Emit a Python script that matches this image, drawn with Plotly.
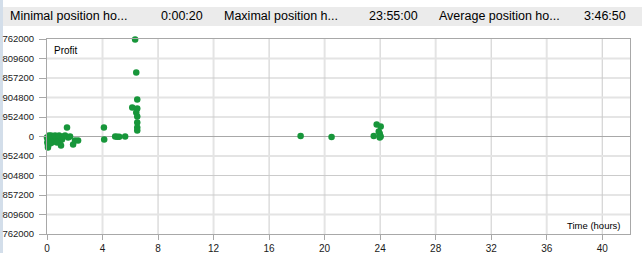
import plotly.graph_objects as go

# ---- data (hours held, profit) ----
hours = [0.00, 0.07, 0.14, 0.22, 0.07, 0.07, 0.29, 0.36, 0.43, 0.51, 0.58, 0.65, 0.72, 0.79,
         0.87, 0.94, 1.01, 1.08, 0.14, 0.29, 0.58, 0.87, 1.16, 1.01, 1.30, 1.44, 1.52, 1.66,
         1.88, 2.02, 2.24, 0.02, 0.36, 0.72,
         4.10, 4.12, 4.91, 5.05, 5.20, 5.63,
         6.35, 6.43, 6.50, 6.14, 6.50, 6.43, 6.50, 6.50, 6.50, 6.50,
         18.27, 20.50, 23.54, 23.75, 24.04, 23.90, 23.97, 24.04, 23.97]
profit = [-48000, -146000, -244000, -342000, -440000, -537000, -98000, -195000, 0, -98000,
          -195000, -49000, -146000, 0, -98000, -195000, -49000, -146000, 49000, 49000,
          49000, 49000, 0, -440000, 49000, 440000, -49000, 0, -390000, -195000, -195000,
          -293000, -293000, -293000,
          440000, -146000, 0, -10000, -15000, 5000,
          4737000, 3125000, 1807000, 1416000, 1367000, 1172000, 977000, 684000, 440000, 293000,
          20000, -20000, 30000, 586000, 488000, 244000, 147000, 0, -49000]

x_ticks = [0, 4, 8, 12, 16, 20, 24, 28, 32, 36, 40]
y_ticks = [4762000, 3809600, 2857200, 1904800, 952400, 0,
           -952400, -1904800, -2857200, -3809600, -4762000]
y_labels = ["762000", "809600", "857200", "904800", "952400", "0",
            "952400", "904800", "857200", "809600", "762000"]

header_labels = ["Minimal position ho...", "Maximal position h...", "Average position ho..."]
header_values = ["0:00:20", "23:55:00", "3:46:50"]

FONT = "Liberation Sans, Arial, sans-serif"
W, H = 642, 253
L, R, T, B = 47, 630, 39, 234

def px(x):
    return (x - L) / (R - L)

def py(y):
    return (B - y) / (B - T)

fig = go.Figure()
fig.add_trace(go.Scatter(
    x=hours, y=profit, mode="markers",
    marker=dict(color="#17963a", size=6.5, line=dict(width=0)),
    cliponaxis=False, hoverinfo="skip", showlegend=False))

shapes = []
# vertical grid lines
for v in x_ticks[1:]:
    light = (v // 4) % 2 == 1
    shapes.append(dict(type="line", xref="x", yref="paper", x0=v, x1=v, y0=0, y1=1,
                       line=dict(color="#e4e4e4" if light else "#cbcbcb", width=2 if light else 1),
                       layer="below"))
# horizontal grid lines
light_y = {3809600, 1904800, -952400, -3809600}
for v in y_ticks[1:-1]:
    if v == 0:
        shapes.append(dict(type="line", xref="paper", yref="y", x0=0, x1=1, y0=0, y1=0,
                           line=dict(color="#a8a8a8", width=1), layer="below"))
        continue
    light = v in light_y
    shapes.append(dict(type="line", xref="paper", yref="y", x0=0, x1=1, y0=v, y1=v,
                       line=dict(color="#e4e4e4" if light else "#cbcbcb", width=2 if light else 1),
                       layer="below"))
# header band
shapes.append(dict(type="rect", xref="paper", yref="paper", x0=px(3), x1=px(642),
                   y0=py(26), y1=py(7), fillcolor="#ebebeb", line=dict(width=0), layer="below"))
# left window strip
shapes.append(dict(type="rect", xref="paper", yref="paper", x0=px(0), x1=px(3),
                   y0=py(253), y1=py(0), fillcolor="#d3deea", line=dict(width=0), layer="below"))

annotations = []
label_x = [8, 222, 437]
value_x = [205, 420, 628]
for lx, vx, lab, val in zip(label_x, value_x, header_labels, header_values):
    annotations.append(dict(text=lab, xref="paper", yref="paper", x=px(lx), y=py(16.5),
                            xanchor="left", yanchor="middle", showarrow=False,
                            font=dict(family=FONT, size=12.5, color="#000000")))
    annotations.append(dict(text=val, xref="paper", yref="paper", x=px(vx), y=py(16.5),
                            xanchor="right", yanchor="middle", showarrow=False,
                            font=dict(family=FONT, size=12.5, color="#000000")))
annotations.append(dict(text="Profit", xref="paper", yref="paper", x=px(52), y=py(50),
                        xanchor="left", yanchor="middle", showarrow=False,
                        font=dict(family=FONT, size=10, color="#000000")))
annotations.append(dict(text="Time (hours)", xref="paper", yref="paper", x=px(623), y=py(225),
                        xanchor="right", yanchor="middle", showarrow=False,
                        font=dict(family=FONT, size=9.5, color="#000000")))

fig.update_layout(
    width=W, height=H,
    margin=dict(l=L, r=W - R, t=T, b=H - B, pad=0, autoexpand=False),
    paper_bgcolor="#ffffff", plot_bgcolor="#ffffff",
    shapes=shapes, annotations=annotations,
    xaxis=dict(range=[0, 42], tickvals=x_ticks, ticktext=[str(v) for v in x_ticks],
               showgrid=False, zeroline=False, showline=True, linecolor="#a8a8a8",
               linewidth=1, mirror=True, ticks="outside", ticklen=5, tickcolor="#a8a8a8",
               automargin=False,
               tickfont=dict(family=FONT, size=10, color="#1a1a1a")),
    yaxis=dict(range=[-4762000, 4762000], tickvals=y_ticks, ticktext=y_labels,
               showgrid=False, zeroline=False, showline=True, linecolor="#a8a8a8",
               linewidth=1, mirror=True, ticks="outside", ticklen=7, tickcolor="#a8a8a8",
               automargin=False, ticklabelstandoff=3,
               tickfont=dict(family=FONT, size=9.5, color="#1a1a1a")),
)

fig.write_html("out.html")
